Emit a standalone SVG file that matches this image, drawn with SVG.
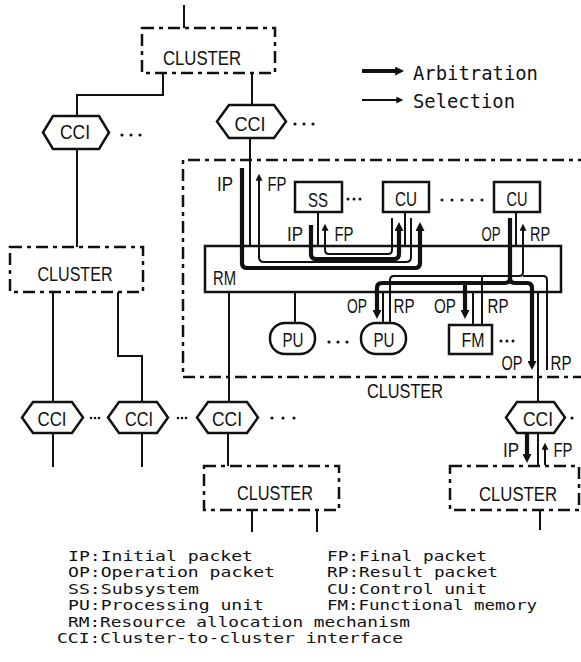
<svg xmlns="http://www.w3.org/2000/svg" width="581" height="662" viewBox="0 0 581 662">
<style>
.bg{fill:#fff}
.box{fill:#fff;stroke:#111;stroke-width:2.5}
.dash{fill:none;stroke:#111;stroke-width:2.5;stroke-dasharray:12 5 4 5}
.ln{fill:none;stroke:#111;stroke-width:2}
.arb{fill:none;stroke:#111;stroke-width:4.2}
.sel{fill:none;stroke:#111;stroke-width:2}
.lbl{font-family:"Liberation Sans",Arial,sans-serif;font-size:20px;fill:#111}
.mono{font-family:"DejaVu Sans Mono","Liberation Mono",monospace;font-size:14px;fill:#111}
.leg{font-family:"DejaVu Sans Mono","Liberation Mono",monospace;font-size:19px;fill:#111}
.dot{fill:#111}
</style>
<defs>
<marker id="ha" viewBox="0 0 10 10" refX="1" refY="5" markerWidth="10" markerHeight="9" markerUnits="userSpaceOnUse" orient="auto"><path d="M0,0 L10,5 L0,10 z" fill="#111"/></marker>
<marker id="hs" viewBox="0 0 10 10" refX="1" refY="5" markerWidth="9" markerHeight="7" markerUnits="userSpaceOnUse" orient="auto"><path d="M0,0 L10,5 L0,10 z" fill="#111"/></marker>
</defs>
<rect class="bg" x="0" y="0" width="581" height="662"/>

<g id="cluster-inner">
<path class="dash" d="M590,160 H183 V377 H590"/>
<text class="lbl" x="405" y="398" text-anchor="middle" textLength="76" lengthAdjust="spacingAndGlyphs">CLUSTER</text>
</g>

<g id="connectors">
<path class="ln" d="M184,5 V28"/>
<path class="ln" d="M163,73 V95 H77 V116"/>
<path class="ln" d="M252,73 V105"/>
<path class="ln" d="M77,149 V247"/>
<path class="ln" d="M250,138 V246"/>
<path class="ln" d="M53,292 V402"/>
<path class="ln" d="M118,292 V356 H142 V402"/>
<path class="ln" d="M229,292 V402"/>
<path class="ln" d="M295,292 V323"/>
<path class="ln" d="M383,292 V323"/>
<path class="ln" d="M473,292 V325"/>
<path class="ln" d="M538,292 V402"/>
<path class="ln" d="M318,212 V246"/>
<path class="ln" d="M405,212 V246"/>
<path class="ln" d="M516,212 V246"/>
<path class="ln" d="M53,433 V467"/>
<path class="ln" d="M142,433 V467"/>
<path class="ln" d="M228,433 V466"/>
<path class="ln" d="M252,510 V532"/>
<path class="ln" d="M317,510 V532"/>
<path class="ln" d="M538,433 V466"/>
<path class="ln" d="M540,510 V530"/>
<path class="arb" d="M527,434 V455" marker-end="url(#ha)"/>
<path class="sel" d="M545,465 V449" marker-end="url(#hs)"/>
</g>

<g id="rm">
<rect class="box" x="205" y="246" width="356" height="46"/>
<text class="lbl" x="213" y="285" textLength="23" lengthAdjust="spacingAndGlyphs">RM</text>
</g>

<g id="paths">
<path class="arb" d="M242,168 V263 Q242,268 247,268 H415 Q420,268 420,263 V230" marker-end="url(#ha)"/>
<path class="arb" d="M311,225 V254 Q311,259 316,259 H394 Q399,259 399,254 V230" marker-end="url(#ha)"/>
<path class="arb" d="M510,218 V278 Q510,283 505,283 H382 Q377,283 377,288 V311" marker-end="url(#ha)"/>
<path class="arb" d="M510,278 Q510,283 515,283 H527 Q532,283 532,288 V362" marker-end="url(#ha)"/>
<path class="arb" d="M465,283 V311" marker-end="url(#ha)"/>
<path class="sel" d="M392,218 V250 Q392,254 388,254 H329 Q325,254 325,250 V230" marker-end="url(#hs)"/>
<path class="sel" d="M411,218 V257 Q411,262 406,262 H264 Q259,262 259,257 V180" marker-end="url(#hs)"/>
<path class="sel" d="M390,323 V280 Q390,276 394,276 H519 Q523,276 523,272 V230" marker-end="url(#hs)"/>
<path class="sel" d="M547,370 V280 Q547,276 543,276 H523"/>
<path class="sel" d="M482,325 V276"/>
</g>

<g id="path-labels">
<text class="lbl" x="225" y="191" text-anchor="middle" textLength="16" lengthAdjust="spacingAndGlyphs">IP</text>
<text class="lbl" x="277" y="191" text-anchor="middle" textLength="19" lengthAdjust="spacingAndGlyphs">FP</text>
<text class="lbl" x="295" y="241" text-anchor="middle" textLength="16" lengthAdjust="spacingAndGlyphs">IP</text>
<text class="lbl" x="344" y="241" text-anchor="middle" textLength="19" lengthAdjust="spacingAndGlyphs">FP</text>
<text class="lbl" x="491" y="241" text-anchor="middle" textLength="19" lengthAdjust="spacingAndGlyphs">OP</text>
<text class="lbl" x="540" y="241" text-anchor="middle" textLength="20" lengthAdjust="spacingAndGlyphs">RP</text>
<text class="lbl" x="357" y="313" text-anchor="middle" textLength="20" lengthAdjust="spacingAndGlyphs">OP</text>
<text class="lbl" x="404" y="313" text-anchor="middle" textLength="21" lengthAdjust="spacingAndGlyphs">RP</text>
<text class="lbl" x="445" y="313" text-anchor="middle" textLength="22" lengthAdjust="spacingAndGlyphs">OP</text>
<text class="lbl" x="498" y="313" text-anchor="middle" textLength="21" lengthAdjust="spacingAndGlyphs">RP</text>
<text class="lbl" x="512" y="370" text-anchor="middle" textLength="21" lengthAdjust="spacingAndGlyphs">OP</text>
<text class="lbl" x="561" y="370" text-anchor="middle" textLength="21" lengthAdjust="spacingAndGlyphs">RP</text>
<text class="lbl" x="511" y="457" text-anchor="middle" textLength="16" lengthAdjust="spacingAndGlyphs">IP</text>
<text class="lbl" x="563" y="457" text-anchor="middle" textLength="19" lengthAdjust="spacingAndGlyphs">FP</text>
</g>

<g id="cluster-top">
<rect class="dash" x="142" y="28" width="133" height="45"/>
<text class="lbl" x="202" y="65" text-anchor="middle" textLength="78" lengthAdjust="spacingAndGlyphs">CLUSTER</text>
</g>
<g id="cluster-left">
<rect class="dash" x="10" y="247" width="133" height="45"/>
<text class="lbl" x="75" y="281" text-anchor="middle" textLength="75" lengthAdjust="spacingAndGlyphs">CLUSTER</text>
</g>
<g id="cluster-bottom">
<rect class="dash" x="204" y="466" width="135" height="44"/>
<text class="lbl" x="275" y="500" text-anchor="middle" textLength="76" lengthAdjust="spacingAndGlyphs">CLUSTER</text>
</g>
<g id="cluster-bottom-right">
<rect class="dash" x="450" y="466" width="129" height="44"/>
<text class="lbl" x="518" y="501" text-anchor="middle" textLength="78" lengthAdjust="spacingAndGlyphs">CLUSTER</text>
</g>

<g id="cci-top-left">
<polygon class="box" points="43,132.5 53,116 99,116 109,132.5 99,149 53,149"/>
<text class="lbl" x="75" y="139" text-anchor="middle" textLength="30" lengthAdjust="spacingAndGlyphs">CCI</text>
<circle class="dot" cx="122" cy="135" r="1.6"/><circle class="dot" cx="131" cy="135" r="1.6"/><circle class="dot" cx="140" cy="135" r="1.6"/>
</g>
<g id="cci-top-right">
<polygon class="box" points="217,121.5 229,105 274,105 286,121.5 274,138 229,138"/>
<text class="lbl" x="250" y="131" text-anchor="middle" textLength="31" lengthAdjust="spacingAndGlyphs">CCI</text>
<circle class="dot" cx="295" cy="124" r="1.6"/><circle class="dot" cx="304" cy="124" r="1.6"/><circle class="dot" cx="313" cy="124" r="1.6"/>
</g>
<g id="cci-1">
<polygon class="box" points="22,417.5 33,402 72,402 83,417.5 72,433 33,433"/>
<text class="lbl" x="52" y="426" text-anchor="middle" textLength="29" lengthAdjust="spacingAndGlyphs">CCI</text>
<circle class="dot" cx="91" cy="418" r="1.3"/><circle class="dot" cx="95" cy="418" r="1.3"/><circle class="dot" cx="99" cy="418" r="1.3"/>
</g>
<g id="cci-2">
<polygon class="box" points="108,417.5 119,402 157,402 168,417.5 157,433 119,433"/>
<text class="lbl" x="139" y="426" text-anchor="middle" textLength="28" lengthAdjust="spacingAndGlyphs">CCI</text>
<circle class="dot" cx="178" cy="418" r="1.3"/><circle class="dot" cx="182" cy="418" r="1.3"/><circle class="dot" cx="186" cy="418" r="1.3"/>
</g>
<g id="cci-3">
<polygon class="box" points="197,417.5 208,402 247,402 258,417.5 247,433 208,433"/>
<text class="lbl" x="227" y="426" text-anchor="middle" textLength="30" lengthAdjust="spacingAndGlyphs">CCI</text>
<circle class="dot" cx="272" cy="418" r="1.6"/><circle class="dot" cx="283" cy="418" r="1.6"/><circle class="dot" cx="294" cy="418" r="1.6"/>
</g>
<g id="cci-right">
<polygon class="box" points="506,417.5 517,402 554,402 565,417.5 554,433 517,433"/>
<text class="lbl" x="538" y="426" text-anchor="middle" textLength="30" lengthAdjust="spacingAndGlyphs">CCI</text>
<circle class="dot" cx="572" cy="418" r="1.6"/>
</g>

<g id="ss">
<rect class="box" x="295" y="182" width="47" height="30"/>
<text class="lbl" x="318" y="207" text-anchor="middle" textLength="20" lengthAdjust="spacingAndGlyphs">SS</text>
<circle class="dot" cx="348" cy="199" r="1.5"/><circle class="dot" cx="354" cy="199" r="1.5"/><circle class="dot" cx="360" cy="199" r="1.5"/>
</g>
<g id="cu1">
<rect class="box" x="383" y="182" width="46" height="30"/>
<text class="lbl" x="406" y="206" text-anchor="middle" textLength="22" lengthAdjust="spacingAndGlyphs">CU</text>
<circle class="dot" cx="442" cy="200" r="1.5"/><circle class="dot" cx="452" cy="200" r="1.5"/><circle class="dot" cx="462" cy="200" r="1.5"/><circle class="dot" cx="472" cy="200" r="1.5"/><circle class="dot" cx="482" cy="200" r="1.5"/>
</g>
<g id="cu2">
<rect class="box" x="494" y="182" width="46" height="30"/>
<text class="lbl" x="517" y="206" text-anchor="middle" textLength="21" lengthAdjust="spacingAndGlyphs">CU</text>
</g>
<g id="pu1">
<rect class="box" x="270" y="323" width="45" height="31" rx="15"/>
<text class="lbl" x="293" y="347" text-anchor="middle" textLength="21" lengthAdjust="spacingAndGlyphs">PU</text>
<circle class="dot" cx="329" cy="342" r="1.6"/><circle class="dot" cx="338" cy="342" r="1.6"/><circle class="dot" cx="347" cy="342" r="1.6"/>
</g>
<g id="pu2">
<rect class="box" x="361" y="323" width="45" height="31" rx="15"/>
<text class="lbl" x="384" y="347" text-anchor="middle" textLength="21" lengthAdjust="spacingAndGlyphs">PU</text>
</g>
<g id="fm">
<rect class="box" x="449" y="325" width="43" height="29"/>
<text class="lbl" x="473" y="347" text-anchor="middle" textLength="23" lengthAdjust="spacingAndGlyphs">FM</text>
<circle class="dot" cx="501" cy="341" r="1.5"/><circle class="dot" cx="507" cy="341" r="1.5"/><circle class="dot" cx="513" cy="341" r="1.5"/>
</g>

<g id="legend-lines">
<path class="arb" d="M362,71 H396" marker-end="url(#ha)"/>
<text class="leg" x="413" y="80" textLength="125" lengthAdjust="spacingAndGlyphs">Arbitration</text>
<path class="sel" d="M362,100 H397" marker-end="url(#hs)"/>
<text class="leg" x="413" y="108" textLength="102" lengthAdjust="spacingAndGlyphs">Selection</text>
</g>

<g id="legend-abbrev">
<text class="mono" x="68" y="561" textLength="185" lengthAdjust="spacingAndGlyphs">IP:Initial packet</text>
<text class="mono" x="68" y="577.4" textLength="207" lengthAdjust="spacingAndGlyphs">OP:Operation packet</text>
<text class="mono" x="68" y="593.8" textLength="131" lengthAdjust="spacingAndGlyphs">SS:Subsystem</text>
<text class="mono" x="68" y="610.2" textLength="196" lengthAdjust="spacingAndGlyphs">PU:Processing unit</text>
<text class="mono" x="68" y="626.6" textLength="342" lengthAdjust="spacingAndGlyphs">RM:Resource allocation mechanism</text>
<text class="mono" x="57" y="643" textLength="346" lengthAdjust="spacingAndGlyphs">CCI:Cluster-to-cluster interface</text>
<text class="mono" x="327" y="561" textLength="160" lengthAdjust="spacingAndGlyphs">FP:Final packet</text>
<text class="mono" x="327" y="577.4" textLength="171" lengthAdjust="spacingAndGlyphs">RP:Result packet</text>
<text class="mono" x="327" y="593.8" textLength="160" lengthAdjust="spacingAndGlyphs">CU:Control unit</text>
<text class="mono" x="327" y="610.2" textLength="210" lengthAdjust="spacingAndGlyphs">FM:Functional memory</text>
</g>
</svg>
